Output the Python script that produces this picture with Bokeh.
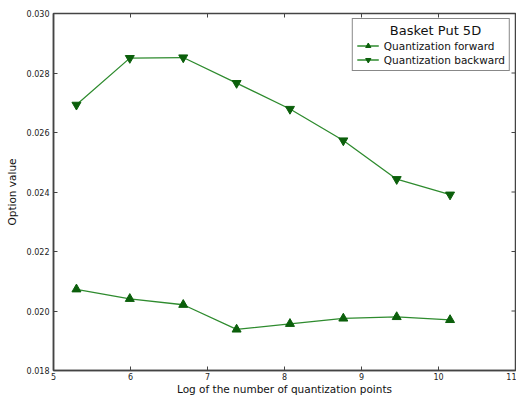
import math
from bokeh.plotting import figure
from bokeh.models import Range1d, FixedTicker, Legend, LegendItem, CustomJSTickFormatter
from bokeh.embed import file_html
from bokeh.resources import INLINE

log_points = [5.298, 5.991, 6.685, 7.378, 8.071, 8.764, 9.457, 10.150]
forward = [0.02073, 0.02041, 0.02021, 0.01938, 0.01957, 0.01975, 0.01980, 0.01970]
backward = [0.02693, 0.02850, 0.02852, 0.02766, 0.02679, 0.02573, 0.02443, 0.02391]
x_ticks = [5, 6, 7, 8, 9, 10, 11]
y_ticks = [0.018, 0.020, 0.022, 0.024, 0.026, 0.028, 0.030]
x_min, x_max = 5, 11
y_min, y_max = 0.018, 0.030

FONT = "DejaVu Sans"
LINE = "#2e8b2e"
MARK = "#0b5f0b"
FRAME = "#444444"

p = figure(width=516, height=397, output_backend="svg", toolbar_location=None,
           x_range=Range1d(x_min, x_max), y_range=Range1d(y_min, y_max),
           min_border_left=53, min_border_right=1, min_border_top=13, min_border_bottom=20)
p.xgrid.visible = False
p.ygrid.visible = False
p.outline_line_color = FRAME
p.outline_line_width = 1.5
p.background_fill_color = "white"
p.border_fill_color = "white"

lf = p.line(log_points, forward, line_color=LINE, line_width=1.3)
mf = p.scatter(log_points, forward, marker="triangle", size=9, fill_color=MARK, line_color=MARK)
lb = p.line(log_points, backward, line_color=LINE, line_width=1.3)
mb = p.scatter(log_points, backward, marker="inverted_triangle", size=9, fill_color=MARK, line_color=MARK)

# inward ticks on the top and right edges (matplotlib style box)
p.scatter(x_ticks, [y_max] * len(x_ticks), marker="dash", angle=math.pi / 2, size=8,
          line_color=FRAME, line_width=1)
p.scatter([x_max] * len(y_ticks), y_ticks, marker="dash", size=8,
          line_color=FRAME, line_width=1)

for ax in [p.xaxis[0], p.yaxis[0]]:
    ax.major_tick_in = 4
    ax.major_tick_out = 0
    ax.minor_tick_in = 0
    ax.minor_tick_out = 0
    ax.axis_line_color = FRAME
    ax.axis_line_width = 1.5
    ax.major_tick_line_color = FRAME
    ax.major_label_text_font = FONT
    ax.major_label_text_font_size = "8px"
    ax.major_label_text_color = "#222222"
    ax.axis_label_text_font = FONT
    ax.axis_label_text_font_size = "10.5px"
    ax.axis_label_text_font_style = "normal"
    ax.axis_label_text_color = "#111111"

p.xaxis[0].ticker = FixedTicker(ticks=x_ticks)
p.yaxis[0].ticker = FixedTicker(ticks=y_ticks)
p.yaxis[0].formatter = CustomJSTickFormatter(code="return tick.toFixed(3);")
p.xaxis[0].axis_label = "Log of the number of quantization points"
p.yaxis[0].axis_label = "Option value"
p.xaxis[0].major_label_standoff = 2
p.xaxis[0].axis_label_standoff = 0
p.yaxis[0].major_label_standoff = 4
p.yaxis[0].axis_label_standoff = 6

legend = Legend(items=[LegendItem(label="Quantization forward", renderers=[lf, mf]),
                       LegendItem(label="Quantization backward", renderers=[lb, mb])],
                location="top_right", title="\u00a0" * 8 + "Basket Put 5D")
legend.title_text_font = FONT
legend.title_text_font_size = "13px"
legend.title_text_font_style = "normal"
legend.title_text_color = "#111111"
legend.title_standoff = 1
legend.label_text_font = FONT
legend.label_text_font_size = "10.5px"
legend.label_text_color = "#111111"
legend.label_height = 13
legend.glyph_height = 13
legend.glyph_width = 22
legend.label_standoff = 5
legend.spacing = 1
legend.padding = 4
legend.margin = 5
legend.border_line_color = "#111111"
legend.border_line_width = 1
legend.background_fill_alpha = 1
p.add_layout(legend)

open("out.html", "w").write(file_html(p, INLINE))
